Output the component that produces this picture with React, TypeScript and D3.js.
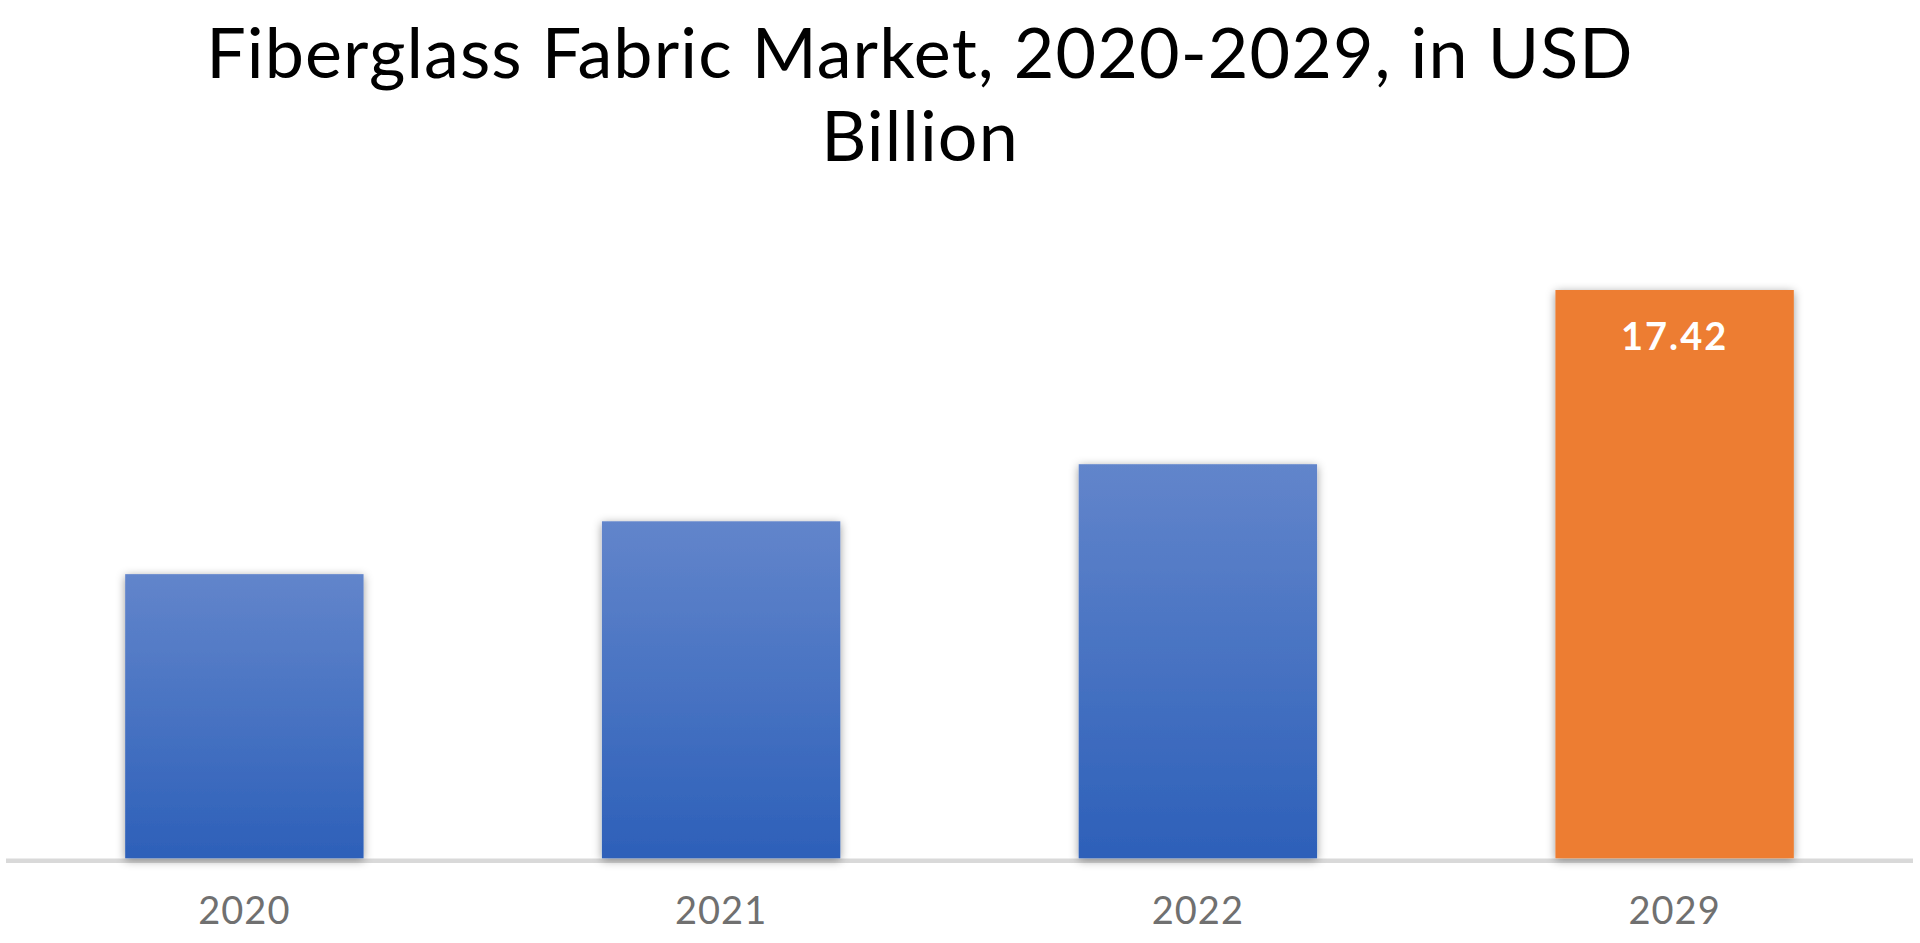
import React, { useEffect, useRef } from "react";
import * as d3 from "d3";

const categories = ["2020", "2021", "2022", "2029"];
const values = [8.71, 10.33, 12.08, 17.42];
const highlight = [false, false, false, true];
const valueLabels = ["", "", "", "17.42"];
const titleLines = ["Fiberglass Fabric Market, 2020-2029, in USD", "Billion"];

const W = 1920;
const H = 943;
const FONT = "'Lato', 'Open Sans', 'DejaVu Sans', sans-serif";

export default function App() {
  const ref = useRef<SVGSVGElement>(null);

  useEffect(() => {
    const svg = d3.select(ref.current);
    svg.selectAll("*").remove();

    const x = d3.scaleBand<string>().domain(categories).range([6, 1913]).paddingInner(0.5).paddingOuter(0.25);
    const baseY = 858.3;
    const y = d3.scaleLinear().domain([0, 17.42]).range([baseY, 290]);

    const defs = svg.append("defs");
    const grad = defs.append("linearGradient").attr("id", "blueGrad").attr("x1", 0).attr("y1", 0).attr("x2", 0).attr("y2", 1);
    grad.append("stop").attr("offset", "0%").attr("stop-color", "#6285cb");
    grad.append("stop").attr("offset", "100%").attr("stop-color", "#2d60b9");
    const f = defs.append("filter").attr("id", "shadow").attr("x", "-20%").attr("y", "-20%").attr("width", "140%").attr("height", "140%");
    f.append("feDropShadow").attr("dx", 0).attr("dy", 2).attr("stdDeviation", 5).attr("flood-color", "#000").attr("flood-opacity", 0.4);

    svg.append("rect").attr("width", W).attr("height", H).attr("fill", "#fff");

    // title
    const title = svg.append("text").attr("text-anchor", "middle").attr("font-family", FONT).attr("font-size", 70).attr("letter-spacing", 1.1).attr("fill", "#000");
    title.append("tspan").attr("x", 920).attr("y", 78).text(titleLines[0]);
    title.append("tspan").attr("x", 920).attr("y", 161).text(titleLines[1]);

    // axis line
    svg.append("line").attr("x1", 6).attr("x2", 1913).attr("y1", 860.8).attr("y2", 860.8).attr("stroke", "#d9d9d9").attr("stroke-width", 4.5);

    // bars
    svg.append("g").selectAll("rect").data(categories).join("rect")
      .attr("x", (d) => x(d)!)
      .attr("width", x.bandwidth())
      .attr("y", (d, i) => y(values[i]))
      .attr("height", (d, i) => baseY - y(values[i]))
      .attr("fill", (d, i) => (highlight[i] ? "#ed7d31" : "url(#blueGrad)"))
      .attr("filter", "url(#shadow)");

    // value labels
    svg.append("g").selectAll("text").data(categories).join("text")
      .attr("x", (d) => x(d)! + x.bandwidth() / 2)
      .attr("y", (d, i) => y(values[i]) + 60)
      .attr("text-anchor", "middle")
      .attr("font-family", FONT)
      .attr("font-weight", "bold")
      .attr("font-size", 38)
      .attr("letter-spacing", 2)
      .attr("fill", "#fff")
      .text((d, i) => valueLabels[i]);

    // x labels
    svg.append("g").selectAll("text").data(categories).join("text")
      .attr("x", (d) => x(d)! + x.bandwidth() / 2)
      .attr("y", 924)
      .attr("text-anchor", "middle")
      .attr("font-family", FONT)
      .attr("font-size", 38)
      .attr("letter-spacing", 1)
      .attr("fill", "#707070")
      .text((d) => d);
  }, []);

  return (
    <svg ref={ref} width={W} height={H} style={{ position: "absolute", left: 0, top: 0 }} />
  );
}
